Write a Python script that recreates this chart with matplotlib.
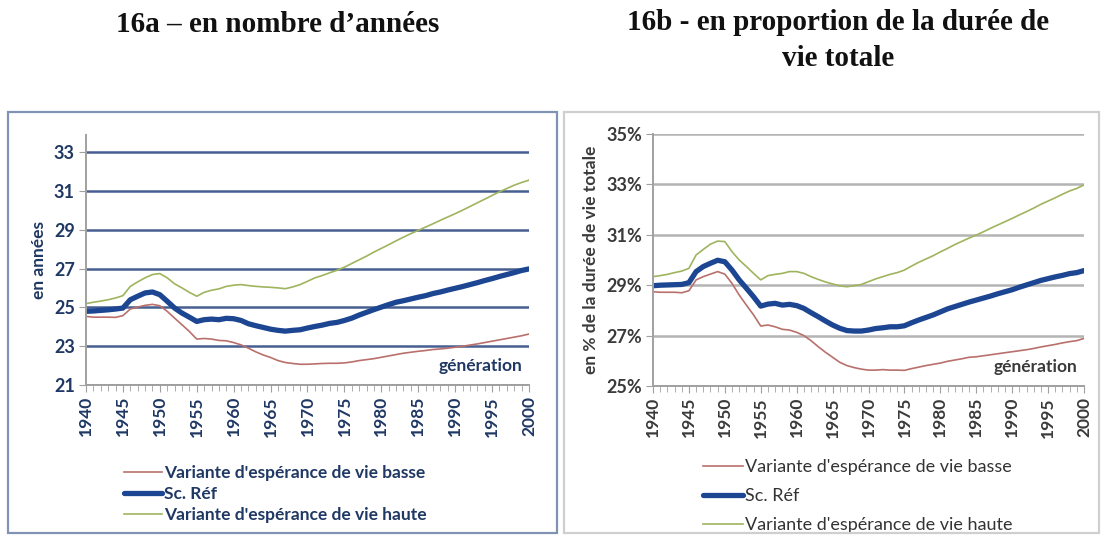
#!/usr/bin/env python3
"""Espérance de vie : 16a en années, 16b en proportion de la durée de vie totale"""
import matplotlib.pyplot as plt
from matplotlib.patches import Rectangle
from matplotlib.ticker import MultipleLocator, FuncFormatter
import numpy as np

plt.rcParams['font.family'] = ['Lato', 'DejaVu Sans']

years = np.arange(1940, 2001)

# 16a - en nombre d'années
ref_a = [24.80, 24.82, 24.85, 24.88, 24.92, 24.97, 25.40, 25.58, 25.75, 25.80,
         25.66, 25.32, 24.97, 24.71, 24.50, 24.28, 24.37, 24.40, 24.37, 24.44,
         24.42, 24.33, 24.16, 24.06, 23.97, 23.88, 23.82, 23.78, 23.82, 23.85,
         23.94, 24.02, 24.09, 24.18, 24.23, 24.33, 24.45, 24.61, 24.75, 24.89,
         25.02, 25.15, 25.27, 25.35, 25.44, 25.53, 25.61, 25.72, 25.80, 25.90,
         25.99, 26.08, 26.18, 26.28, 26.39, 26.49, 26.60, 26.70, 26.80, 26.91,
         26.99]
haute_a = [25.20, 25.27, 25.33, 25.40, 25.49, 25.61, 26.09, 26.32, 26.53, 26.70,
           26.75, 26.53, 26.22, 26.01, 25.78, 25.58, 25.78, 25.89, 25.96, 26.09,
           26.15, 26.18, 26.13, 26.09, 26.06, 26.04, 26.01, 25.97, 26.06, 26.18,
           26.35, 26.53, 26.65, 26.79, 26.92, 27.08, 27.27, 27.46, 27.65, 27.86,
           28.05, 28.24, 28.44, 28.63, 28.81, 28.98, 29.15, 29.32, 29.50, 29.67,
           29.84, 30.02, 30.21, 30.40, 30.59, 30.78, 30.97, 31.14, 31.31, 31.45,
           31.57]
basse_a = [24.54, 24.50, 24.50, 24.50, 24.49, 24.58, 24.92, 25.02, 25.11, 25.16,
           25.09, 24.80, 24.45, 24.11, 23.76, 23.37, 23.40, 23.37, 23.30, 23.28,
           23.19, 23.07, 22.90, 22.71, 22.55, 22.42, 22.26, 22.16, 22.11, 22.07,
           22.07, 22.09, 22.11, 22.12, 22.12, 22.14, 22.19, 22.26, 22.31, 22.36,
           22.43, 22.50, 22.57, 22.64, 22.69, 22.74, 22.78, 22.83, 22.86, 22.90,
           22.95, 23.00, 23.06, 23.12, 23.19, 23.26, 23.33, 23.40, 23.47, 23.54,
           23.63]

# 16b - en % de la durée de vie totale
ref_b = [28.98, 29.00, 29.01, 29.02, 29.03, 29.10, 29.54, 29.74, 29.87, 29.99,
         29.93, 29.60, 29.21, 28.88, 28.54, 28.17, 28.25, 28.28, 28.21, 28.24,
         28.19, 28.08, 27.91, 27.75, 27.58, 27.42, 27.29, 27.20, 27.18, 27.18,
         27.22, 27.28, 27.31, 27.35, 27.35, 27.39, 27.51, 27.62, 27.72, 27.82,
         27.94, 28.06, 28.15, 28.24, 28.33, 28.41, 28.49, 28.57, 28.66, 28.74,
         28.82, 28.92, 29.01, 29.10, 29.19, 29.26, 29.33, 29.39, 29.46, 29.50,
         29.58]
haute_b = [29.34, 29.38, 29.43, 29.50, 29.56, 29.67, 30.20, 30.42, 30.63, 30.75,
           30.73, 30.33, 30.00, 29.74, 29.47, 29.21, 29.38, 29.43, 29.47, 29.54,
           29.54, 29.47, 29.34, 29.23, 29.13, 29.05, 28.97, 28.94, 28.98, 29.03,
           29.14, 29.25, 29.34, 29.43, 29.50, 29.60, 29.76, 29.91, 30.04, 30.17,
           30.32, 30.46, 30.61, 30.74, 30.87, 30.99, 31.12, 31.26, 31.39, 31.52,
           31.65, 31.79, 31.92, 32.06, 32.21, 32.34, 32.47, 32.61, 32.74, 32.84,
           32.98]
basse_b = [28.74, 28.72, 28.72, 28.72, 28.70, 28.78, 29.21, 29.34, 29.44, 29.54,
           29.44, 29.07, 28.61, 28.21, 27.82, 27.38, 27.42, 27.35, 27.25, 27.22,
           27.13, 27.00, 26.80, 26.56, 26.34, 26.14, 25.94, 25.81, 25.73, 25.67,
           25.63, 25.63, 25.65, 25.63, 25.63, 25.62, 25.69, 25.75, 25.81, 25.86,
           25.91, 25.98, 26.03, 26.08, 26.14, 26.16, 26.20, 26.24, 26.28, 26.32,
           26.36, 26.40, 26.44, 26.49, 26.55, 26.60, 26.65, 26.71, 26.76, 26.80,
           26.89]

labels = ["Variante d'espérance de vie basse", 'Sc. Réf',
          "Variante d'espérance de vie haute"]
c_basse, c_ref, c_haute = '#b9706c', '#1c4592', '#9fb45e'

W, H = 1103, 536
fig = plt.figure(figsize=(W / 100, H / 100), dpi=100)

# panel frames
fig.patches.append(Rectangle((8 / W, 3 / H), 549 / W, 421 / H, transform=fig.transFigure,
                             fill=False, ec='#8193b4', lw=1.6))
fig.patches.append(Rectangle((564 / W, 3 / H), 535 / W, 421 / H, transform=fig.transFigure,
                             fill=False, ec='#cfcfcf', lw=1.6))

# titles
tkw = dict(family='Liberation Serif', fontweight='bold', fontsize=21, color='#111111',
           ha='center', va='center')
fig.text(278 / W, 1 - 25 / H, '16a \u2013 en nombre d\u2019années', **tkw)
fig.text(838 / W, 1 - 23 / H, '16b - en proportion de la durée de', **tkw)
fig.text(838 / W, 1 - 58 / H, 'vie totale', **tkw)


def setup(ax, txtcol, gridcol):
    ax.set_xlim(1940, 2000)
    ax.xaxis.set_major_locator(MultipleLocator(5))
    ax.xaxis.set_minor_locator(MultipleLocator(1))
    ax.tick_params(axis='x', which='both', direction='out', color='#a0a0a0',
                   labelrotation=90, labelsize=12.5, labelcolor=txtcol, pad=3)
    ax.tick_params(axis='x', which='major', length=5)
    ax.tick_params(axis='x', which='minor', length=4)
    ax.tick_params(axis='y', direction='out', length=5, color='#a0a0a0',
                   labelsize=13, labelcolor=txtcol, pad=3)
    for lab in ax.get_xticklabels() + ax.get_yticklabels():
        lab.set_fontweight('bold')
    ax.grid(axis='y', color=gridcol, lw=1.8)
    ax.set_axisbelow(True)
    for s in ['top', 'right']:
        ax.spines[s].set_visible(False)
    for s in ['left', 'bottom']:
        ax.spines[s].set_color('#a0a0a0')
        ax.spines[s].set_linewidth(1.4)
    ax.text(0.985, 0.075, 'génération', transform=ax.transAxes, ha='right', va='center',
            fontsize=12.5, fontweight='bold', color=txtcol)


# 16a
ax1 = fig.add_axes([86 / W, 1 - 385 / H, 443 / W, 250 / H])
ax1.plot(years, basse_a, color=c_basse, lw=1.2, label=labels[0])
ax1.plot(years, ref_a, color=c_ref, lw=3.8, label=labels[1], solid_capstyle='round')
ax1.plot(years, haute_a, color=c_haute, lw=1.2, label=labels[2])
ax1.set_ylim(21, 33.9)
ax1.set_yticks([21, 23, 25, 27, 29, 31, 33])
setup(ax1, '#1f3864', '#465f90')
ax1.set_ylabel('en années', fontsize=12.5, fontweight='bold', color='#1f3864', labelpad=5)
ax1.legend(loc='upper left', bbox_to_anchor=(117 / W, 1 - 458 / H), bbox_transform=fig.transFigure,
           frameon=False, handlelength=2.2, handletextpad=0.1, labelspacing=0.3,
           borderaxespad=0, prop={'size': 12.5, 'weight': 'bold'}, labelcolor='#1f3864')

# 16b
ax2 = fig.add_axes([653 / W, 1 - 386 / H, 431 / W, 252 / H])
ax2.plot(years, basse_b, color=c_basse, lw=1.2, label=labels[0])
ax2.plot(years, ref_b, color=c_ref, lw=3.8, label=labels[1], solid_capstyle='round')
ax2.plot(years, haute_b, color=c_haute, lw=1.2, label=labels[2])
ax2.set_ylim(25, 35)
ax2.set_yticks([25, 27, 29, 31, 33, 35])
ax2.yaxis.set_major_formatter(FuncFormatter(lambda v, p: f'{v:.0f}%'))
setup(ax2, '#3a3a3a', '#b4b4b4')
ax2.set_ylabel('en % de la durée de vie totale', fontsize=12.5, fontweight='bold',
               color='#3a3a3a', labelpad=5)
ax2.legend(loc='upper left', bbox_to_anchor=(696 / W, 1 - 452 / H), bbox_transform=fig.transFigure,
           frameon=False, handlelength=2.2, handletextpad=0.1, labelspacing=0.72,
           borderaxespad=0, prop={'size': 13}, labelcolor='#333333')

plt.savefig('out.png', dpi=100)
print('Saved: out.png')
